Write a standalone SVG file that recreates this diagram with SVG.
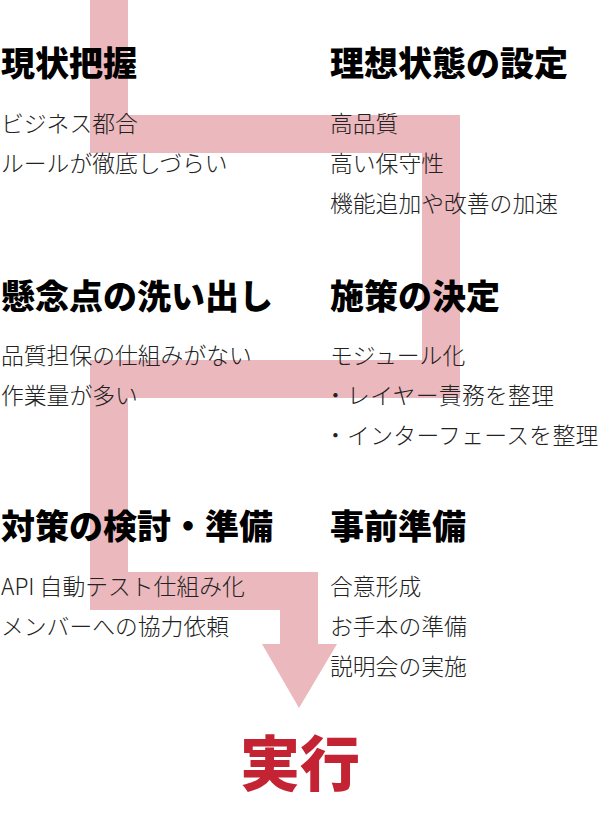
<svg xmlns="http://www.w3.org/2000/svg" width="600" height="815" viewBox="0 0 600 815">
<style>
.h{font-family:"Noto Sans CJK JP","Noto Sans",sans-serif;font-weight:900;font-size:34px;fill:#000}
.b{font-family:"Noto Sans CJK JP","Noto Sans",sans-serif;font-weight:300;font-size:22.8px;fill:#222}
.flow{fill:none;stroke:#ebb8bd;stroke-width:38;stroke-linejoin:miter}
.head{fill:#ebb8bd}
.goal{font-family:"Noto Sans CJK JP","Noto Sans",sans-serif;font-weight:900;font-size:60px;fill:#c32333}
</style>
<g id="connectors">
<path class="flow" d="M109,0 V134 H441 V379 H109 V591 H299 V645"/>
<polygon class="head" points="262,644 337,644 299,708"/>
</g>
<g id="genjo">
<text class="h" x="1" y="76">現状把握</text>
<text class="b" x="1" y="132">ビジネス都合</text>
<text class="b" x="1" y="172">ルールが徹底しづらい</text>
</g>
<g id="riso">
<text class="h" x="330" y="76">理想状態の設定</text>
<text class="b" x="330" y="132">高品質</text>
<text class="b" x="330" y="172">高い保守性</text>
<text class="b" x="330" y="212">機能追加や改善の加速</text>
</g>
<g id="kenen">
<text class="h" x="1" y="309">懸念点の洗い出し</text>
<text class="b" x="1" y="364">品質担保の仕組みがない</text>
<text class="b" x="1" y="404">作業量が多い</text>
</g>
<g id="shisaku">
<text class="h" x="330" y="309">施策の決定</text>
<text class="b" x="330" y="364">モジュール化</text>
<text class="b" x="324" y="404" letter-spacing="0.3">・レイヤー責務を整理</text>
<text class="b" x="324" y="444" letter-spacing="0.3">・インターフェースを整理</text>
</g>
<g id="taisaku">
<text class="h" x="1" y="539">対策の検討・準備</text>
<text class="b" x="1" y="595">API 自動テスト仕組み化</text>
<text class="b" x="1" y="635">メンバーへの協力依頼</text>
</g>
<g id="jizen">
<text class="h" x="330" y="539">事前準備</text>
<text class="b" x="330" y="595">合意形成</text>
<text class="b" x="330" y="635">お手本の準備</text>
<text class="b" x="330" y="675">説明会の実施</text>
</g>
<g id="jikko">
<text class="goal" x="300" y="786" text-anchor="middle">実行</text>
</g>
</svg>
